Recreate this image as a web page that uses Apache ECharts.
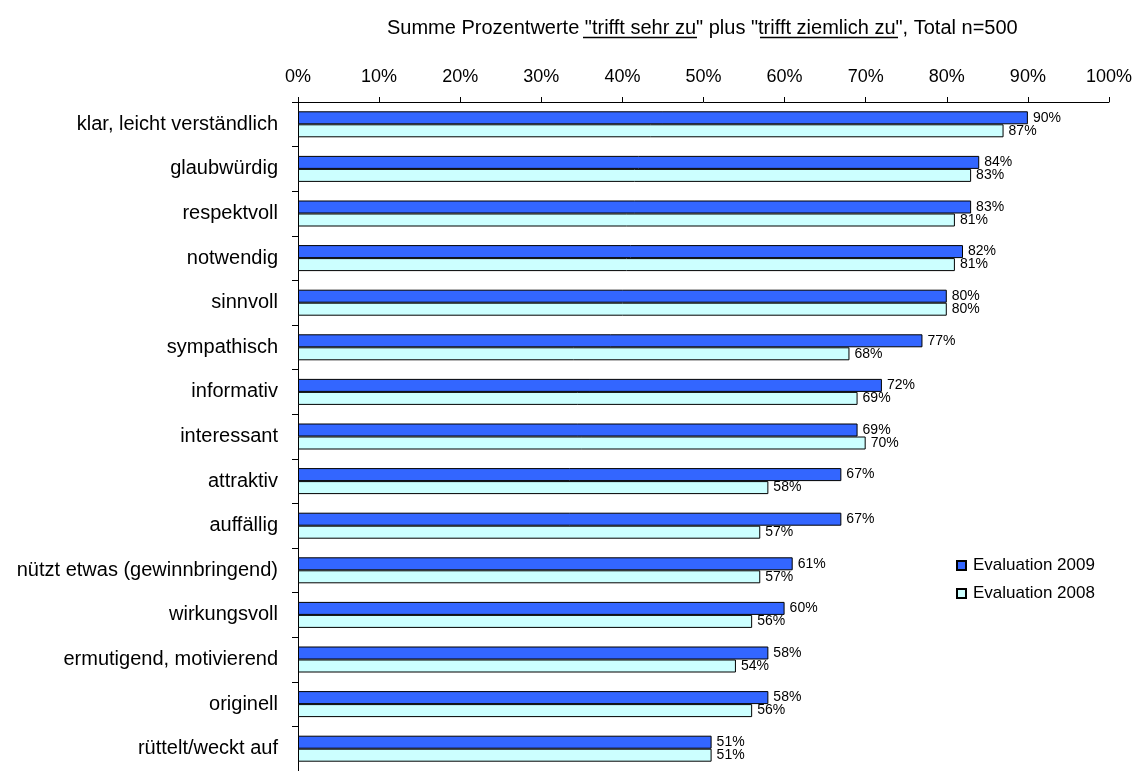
<!DOCTYPE html>
<html>
<head>
<meta charset="utf-8">
<script src="https://cdn.jsdelivr.net/npm/echarts@6/dist/echarts.min.js"></script>
<style>
html,body{margin:0;padding:0;background:#fff;}
#chart{width:1135px;height:771px;}
</style>
</head>
<body>
<div id="chart"></div>
<script>
const categories = [
  "klar, leicht verständlich",
  "glaubwürdig",
  "respektvoll",
  "notwendig",
  "sinnvoll",
  "sympathisch",
  "informativ",
  "interessant",
  "attraktiv",
  "auffällig",
  "nützt etwas (gewinnbringend)",
  "wirkungsvoll",
  "ermutigend, motivierend",
  "originell",
  "rüttelt/weckt auf"
];
const eval2009 = [90, 84, 83, 82, 80, 77, 72, 69, 67, 67, 61, 60, 58, 58, 51];
const eval2008 = [87, 83, 81, 81, 80, 68, 69, 70, 58, 57, 57, 56, 54, 56, 51];
const seriesNames = ["Evaluation 2009", "Evaluation 2008"];
const titleText = 'Summe Prozentwerte "trifft sehr zu" plus "trifft ziemlich zu", Total n=500';

const FONT = 'Arial, "Liberation Sans", sans-serif';
const chart = echarts.init(document.getElementById('chart'), null, {renderer: 'canvas'});

const labelCfg = {
  show: true,
  position: 'right',
  distance: 5,
  formatter: '{c}%',
  color: '#000',
  fontFamily: FONT,
  fontSize: 14
};

chart.setOption({
  animation: false,
  backgroundColor: '#fff',
  title: {
    text: titleText,
    left: 382,
    top: 13,
    textStyle: {fontFamily: FONT, fontSize: 20, fontWeight: 'normal', color: '#000'}
  },
  graphic: [
    {type: 'line', shape: {x1: 583, y1: 37.5, x2: 697, y2: 37.5}, style: {stroke: '#000', lineWidth: 1.5}},
    {type: 'line', shape: {x1: 760, y1: 37.5, x2: 898, y2: 37.5}, style: {stroke: '#000', lineWidth: 1.5}}
  ],
  legend: {
    orient: 'vertical',
    left: 951,
    top: 552,
    itemWidth: 9,
    itemHeight: 9,
    itemGap: 11,
    icon: 'rect',
    textStyle: {fontFamily: FONT, fontSize: 17, color: '#000', padding: [0, 0, 0, 2]},
    data: seriesNames
  },
  grid: {
    left: 298,
    right: 25,
    top: 102,
    height: 676,
    containLabel: false
  },
  xAxis: {
    type: 'value',
    position: 'top',
    min: 0,
    max: 100,
    interval: 10,
    axisLine: {show: true, lineStyle: {color: '#000', width: 1}},
    axisTick: {show: true, inside: false, length: 5, lineStyle: {color: '#000'}},
    splitLine: {show: false},
    axisLabel: {formatter: '{value}%', color: '#000', fontFamily: FONT, fontSize: 18, margin: 16}
  },
  yAxis: {
    type: 'category',
    inverse: true,
    data: categories,
    axisLine: {show: true, lineStyle: {color: '#000', width: 1}},
    axisTick: {show: true, inside: false, length: 6, alignWithLabel: false, lineStyle: {color: '#000'}},
    axisLabel: {color: '#000', fontFamily: FONT, fontSize: 20, margin: 20}
  },
  series: [
    {
      name: seriesNames[0],
      type: 'bar',
      data: eval2009,
      barWidth: 13,
      barGap: '0%',
      itemStyle: {color: '#3366FF', borderColor: '#000', borderWidth: 1},
      label: labelCfg
    },
    {
      name: seriesNames[1],
      type: 'bar',
      data: eval2008,
      barWidth: 13,
      barGap: '0%',
      itemStyle: {color: '#CCFFFF', borderColor: '#000', borderWidth: 1},
      label: labelCfg
    }
  ]
});
</script>
</body>
</html>
